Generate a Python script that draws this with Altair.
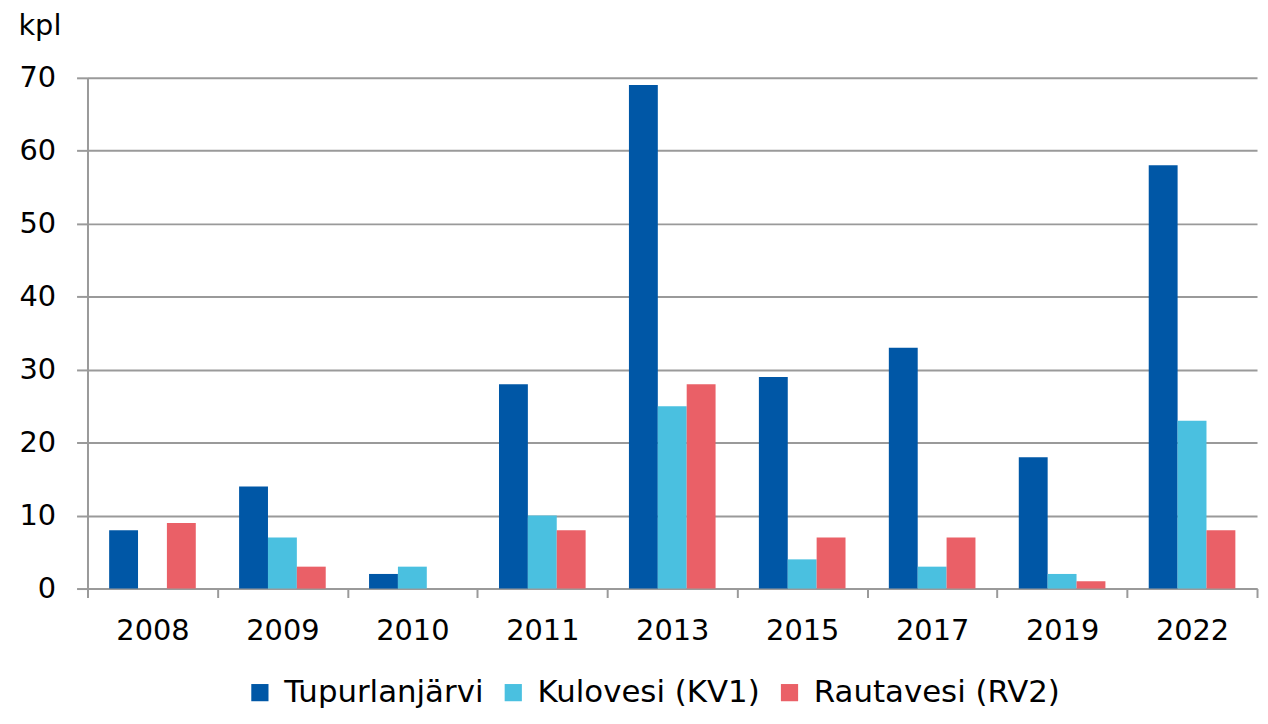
import altair as alt
import pandas as pd

years = ["2008", "2009", "2010", "2011", "2013", "2015", "2017", "2019", "2022"]
series = ["Tupurlanjärvi", "Kulovesi (KV1)", "Rautavesi (RV2)"]
tupurlanjarvi = [8, 14, 2, 28, 69, 29, 33, 18, 58]
kulovesi = [0, 7, 3, 10, 25, 4, 3, 2, 23]
rautavesi = [9, 3, 0, 8, 28, 7, 7, 1, 8]
colors = ["#0057A6", "#4AC0E0", "#EA6067"]

rows = []
for i, y in enumerate(years):
    for s, vals in zip(series, [tupurlanjarvi, kulovesi, rautavesi]):
        rows.append({"year": y, "series": s, "value": vals[i]})
df = pd.DataFrame(rows)

FONT = "DejaVu Sans"
GREY = "#9A9A9A"
FS = 29

chart = alt.Chart(df).mark_bar().encode(
    x=alt.X("year:N", sort=years, title=None,
            scale=alt.Scale(paddingInner=0, paddingOuter=0),
            axis=alt.Axis(labelAngle=0, tickBand="extent", grid=False,
                          domainColor=GREY, domainWidth=2, tickColor=GREY,
                          tickWidth=2, tickSize=9, labelPadding=19,
                          labelFontSize=FS, labelFont=FONT, labelColor="#000")),
    xOffset=alt.XOffset("series:N", sort=series,
                        scale=alt.Scale(paddingInner=0, paddingOuter=0.75)),
    y=alt.Y("value:Q", scale=alt.Scale(domain=[0, 70], nice=False),
            title="kpl",
            axis=alt.Axis(values=list(range(0, 71, 10)), gridColor=GREY,
                          gridWidth=2, domainColor=GREY, domainWidth=2,
                          tickColor=GREY, tickWidth=2, tickSize=11,
                          labelPadding=21, labelFontSize=FS, labelFont=FONT,
                          labelColor="#000",
                          titleAngle=0, titleAlign="left",
                          titleBaseline="alphabetic", titleX=-70, titleY=-44,
                          titleFontSize=FS, titleFont=FONT,
                          titleFontWeight="normal", titleColor="#000")),
    color=alt.Color("series:N", sort=series,
                    scale=alt.Scale(domain=series, range=colors),
                    legend=alt.Legend(title=None, orient="none",
                                      direction="horizontal",
                                      legendX=158, legendY=603,
                                      symbolType="square", symbolSize=300,
                                      symbolStrokeWidth=0,
                                      labelFontSize=31, labelFont=FONT,
                                      labelColor="#000", labelOffset=9,
                                      columnPadding=14, labelLimit=400)),
).properties(
    width=1177, height=514,
    autosize=alt.AutoSizeParams(type="none"),
    padding={"left": 80, "top": 68, "right": 3, "bottom": 125},
).configure_view(stroke=None)

chart.save("out.html", embed_options={"renderer": "svg", "actions": False})
